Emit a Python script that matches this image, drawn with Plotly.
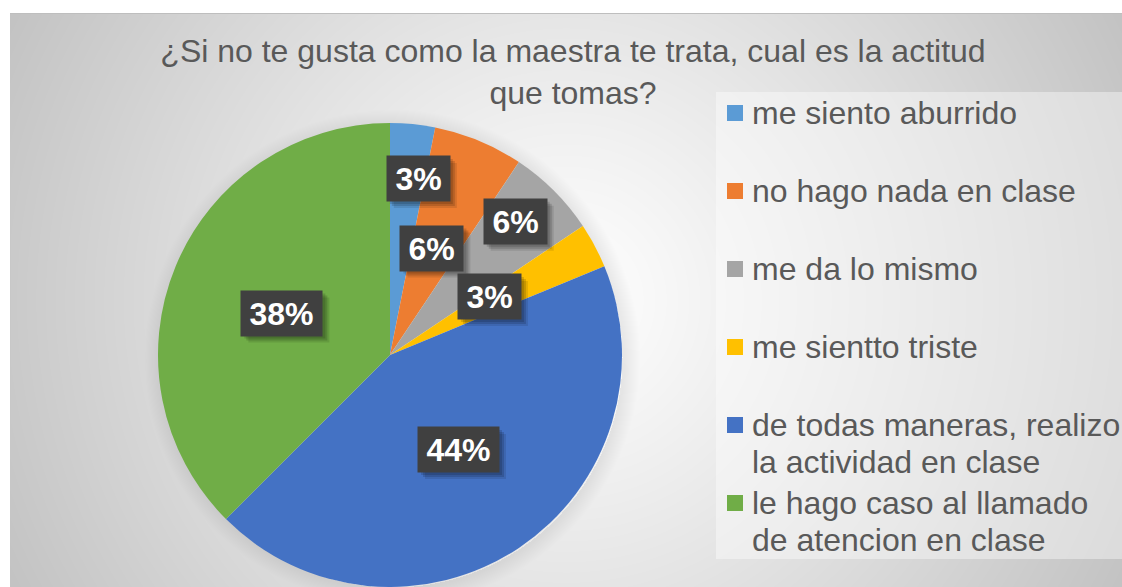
import base64, struct, zlib
import numpy as np
import plotly.graph_objects as go

# ---------------- data ----------------
categories = [
    "me siento aburrido",
    "no hago nada en clase",
    "me da lo mismo",
    "me sientto triste",
    "de todas maneras, realizo<br>la actividad en clase",
    "le hago caso al llamado<br>de atencion en clase",
]
counts = [1, 2, 2, 1, 14, 12]
title_text = "¿Si no te gusta como la maestra te trata, cual es la actitud<br>que tomas?"

# ---------------- style ----------------
colors = ["#5B9BD5", "#ED7D31", "#A5A5A5", "#FFC000", "#4472C4", "#70AD47"]
W, H = 1122, 587
CX, CY, R = 390, 355, 232            # pie centre / radius in px
label_frac = [0.77, 0.495, 0.79, 0.497, 0.503, 0.50]
label_nudge = [3.5, -1.1, -1.9, -2.3, -2.2, -1.3]   # degrees
TEXT_COLOR = "#595959"
FONT = "Liberation Sans, Arial, sans-serif"


def png_data_uri(arr):
    h, w = arr.shape
    raw = b"".join(b"\x00" + arr[i].tobytes() for i in range(h))
    def chunk(tag, data):
        c = struct.pack(">I", len(data)) + tag + data
        return c + struct.pack(">I", zlib.crc32(tag + data) & 0xFFFFFFFF)
    png = b"\x89PNG\r\n\x1a\n" + chunk(b"IHDR", struct.pack(">IIBBBBB", w, h, 8, 0, 0, 0, 0))
    png += chunk(b"IDAT", zlib.compress(raw, 9)) + chunk(b"IEND", b"")
    return "data:image/png;base64," + base64.b64encode(png).decode()


# background: radial gradient panel, white margins, lighter legend box, pie shadow
yy, xx = np.mgrid[0:H, 0:W].astype(float)
px0, py0 = 10, 13
pcx, pcy = (px0 + W) / 2, (py0 + H) / 2
rmax = np.hypot(W - pcx, H - pcy)
t = np.clip(np.hypot(xx - pcx, yy - pcy) / rmax, 0, 1)
bg = 255 - 60 * t ** 1.1
# legend box
lb = (xx >= 716) & (yy >= 92) & (yy <= 558)
bg = np.where(lb, bg + 0.4 * (255 - bg), bg)
# pie soft shadow
d = np.hypot(xx - CX - 2, yy - CY - 2)
sh = np.clip(1 - (d - R) / 16, 0, 1) * (d > R - 2)
bg = bg * (1 - 0.07 * sh)
# top border line & margins
bg[py0, px0:] = 190
bg[py0:, px0] = np.minimum(bg[py0:, px0], 200)
bg[:py0, :] = 255
bg[:, :px0] = 255
img = png_data_uri(np.clip(bg, 0, 255).astype(np.uint8))

fig = go.Figure()
fig.add_trace(go.Pie(
    labels=categories, values=counts, sort=False, direction="clockwise", rotation=0,
    marker=dict(colors=colors, line=dict(width=0)),
    textinfo="none", hoverinfo="label+percent", showlegend=False,
    domain=dict(x=[(CX - R) / W, (CX + R) / W], y=[(H - CY - R) / H, (H - CY + R) / H]),
))

annotations = []
shapes = []
total = sum(counts)
cum = 0
for i, v in enumerate(counts):
    mid = (cum + v / 2) / total * 360 + label_nudge[i]
    cum += v
    rr = label_frac[i] * R
    lx = CX + rr * np.sin(np.radians(mid))
    ly = CY - rr * np.cos(np.radians(mid))
    txt = f"{round(v / total * 100)}%"
    bw = 63 if len(txt) == 2 else 81
    bh = 45
    # soft drop shadow
    for off, a in [(7, 0.10), (5, 0.14), (3, 0.14)]:
        shapes.append(dict(type="rect", xref="paper", yref="paper",
                           x0=(lx - bw / 2 + off) / W, x1=(lx + bw / 2 + off) / W,
                           y0=1 - (ly - bh / 2 + off) / H, y1=1 - (ly + bh / 2 + off) / H,
                           fillcolor=f"rgba(0,0,0,{a})", line=dict(width=0)))
    annotations.append(dict(
        x=lx / W, y=1 - ly / H, xref="paper", yref="paper",
        text=f"<b>{txt}</b>", showarrow=False, xanchor="center", yanchor="middle",
        width=bw, height=bh, borderpad=0, bgcolor="#404040",
        font=dict(family=FONT, size=32, color="white"),
    ))

# legend drawn manually
LY0, LSTEP, LLINE = 113, 78, 37
for i, (name, col) in enumerate(zip(categories, colors)):
    yc = LY0 + i * LSTEP
    shapes.append(dict(type="rect", xref="paper", yref="paper",
                       x0=727 / W, x1=743 / W, y0=1 - (yc - 8) / H, y1=1 - (yc + 8) / H,
                       fillcolor=col, line=dict(width=0)))
    for j, line in enumerate(name.split("<br>")):
        annotations.append(dict(
            x=750 / W, y=1 - (yc + j * LLINE) / H, xref="paper", yref="paper",
            text=line, showarrow=False, xanchor="left", yanchor="middle",
            font=dict(family=FONT, size=32, color=TEXT_COLOR),
        ))

fig.update_layout(
    width=W, height=H, autosize=False,
    margin=dict(l=0, r=0, t=0, b=0),
    paper_bgcolor="white", plot_bgcolor="white",
    title=dict(text=title_text, x=573 / W, xanchor="center", xref="paper",
               y=1 - 62 / H, yanchor="middle", yref="paper",
               font=dict(family=FONT, size=32, color=TEXT_COLOR)),
    images=[dict(source=img, xref="paper", yref="paper", x=0, y=1, sizex=1, sizey=1,
                 xanchor="left", yanchor="top", sizing="stretch", layer="below")],
    annotations=annotations, shapes=shapes,
)

fig.write_html(
    "out.html",
    config={"displayModeBar": False},
    post_script="document.body.style.margin='0';document.body.style.overflow='hidden';",
)
